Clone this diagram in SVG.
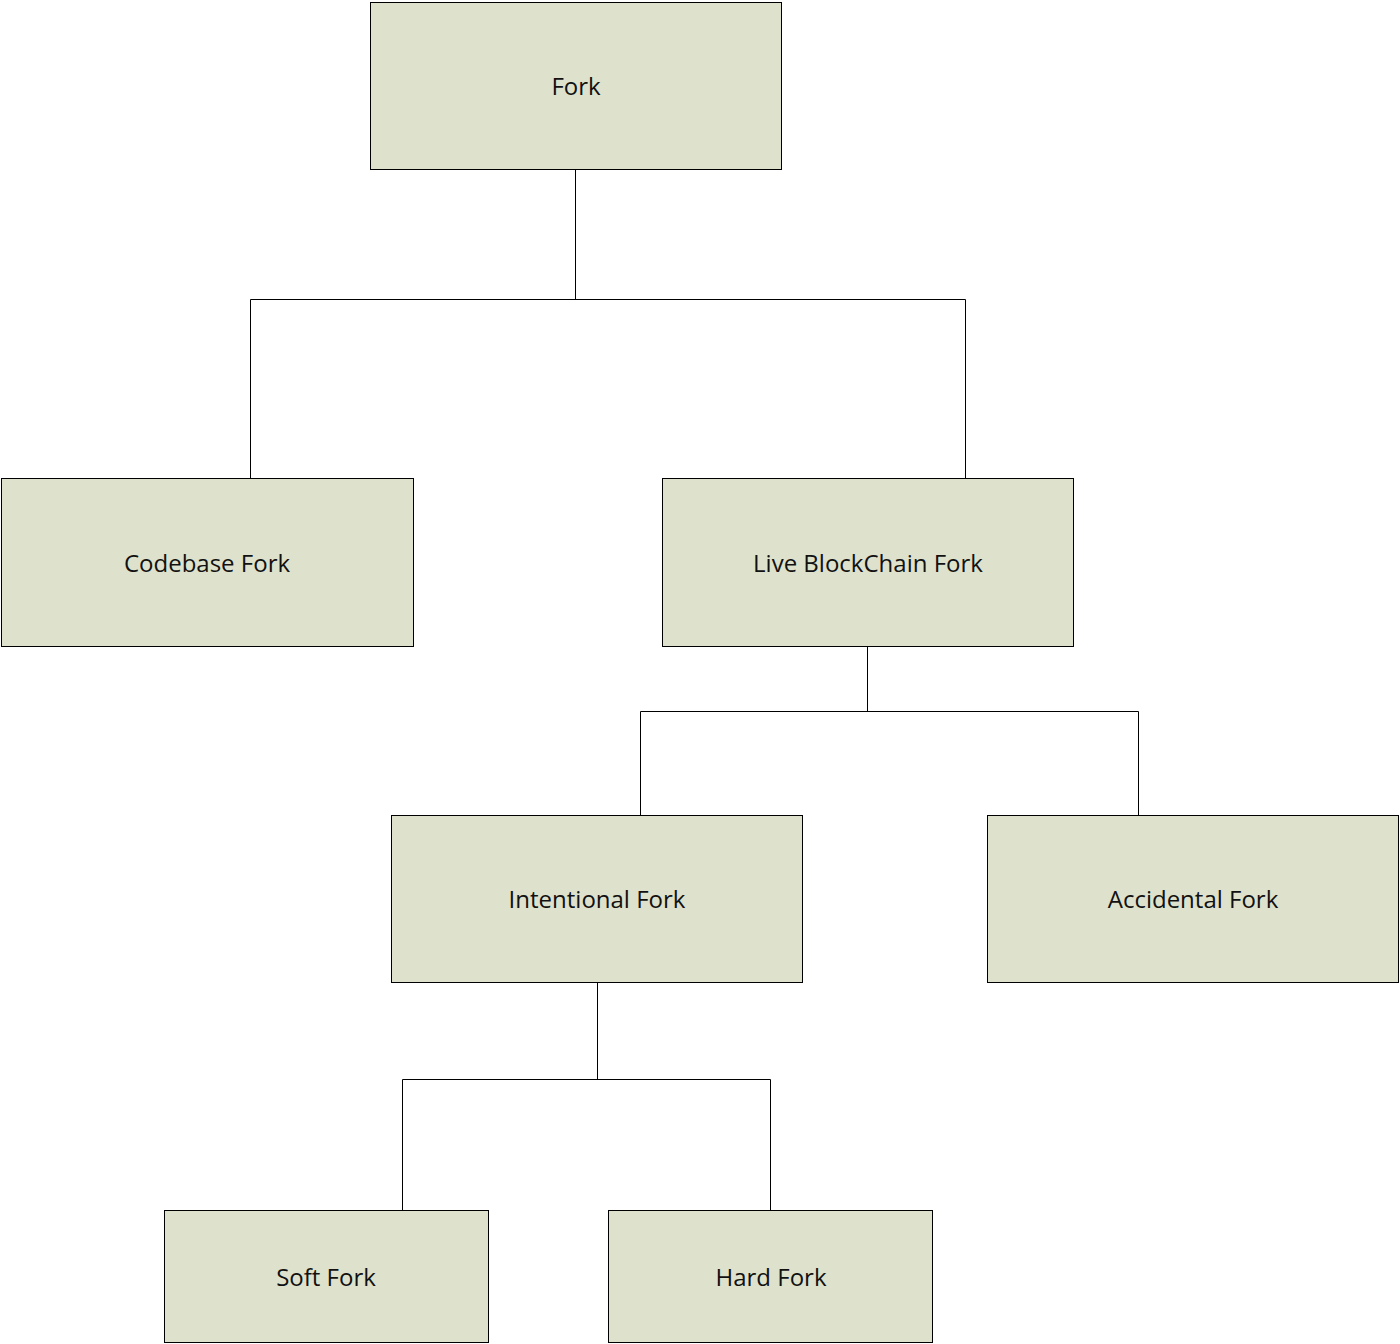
<svg xmlns="http://www.w3.org/2000/svg" width="1400" height="1344" viewBox="0 0 1400 1344">
<style>
.n rect{fill:#dee2cc;stroke:#000;stroke-width:1}
.n text{font-family:"Open Sans","Liberation Sans",sans-serif;font-size:24px;fill:#111;text-anchor:middle;dominant-baseline:central}
.c path{fill:none;stroke:#000;stroke-width:1}
</style>
<rect width="1400" height="1344" fill="#fff"/>
<g class="c">
<path d="M575.5 169V299.5M250.5 478V299.5H965.5V478"/>
<path d="M867.5 646V711.5M640.5 815V711.5H1138.5V815"/>
<path d="M597.5 982V1079.5M402.5 1210V1079.5H770.5V1210"/>
</g>
<g id="fork" class="n"><rect x="370.5" y="2.5" width="411" height="167"/><text x="576" y="85">Fork</text></g>
<g id="codebase" class="n"><rect x="1.5" y="478.5" width="412" height="168"/><text x="207" y="562">Codebase Fork</text></g>
<g id="live" class="n"><rect x="662.5" y="478.5" width="411" height="168"/><text x="868" y="562">Live BlockChain Fork</text></g>
<g id="intentional" class="n"><rect x="391.5" y="815.5" width="411" height="167"/><text x="597" y="898">Intentional Fork</text></g>
<g id="accidental" class="n"><rect x="987.5" y="815.5" width="411" height="167"/><text x="1193" y="898">Accidental Fork</text></g>
<g id="soft" class="n"><rect x="164.5" y="1210.5" width="324" height="132"/><text x="326" y="1276">Soft Fork</text></g>
<g id="hard" class="n"><rect x="608.5" y="1210.5" width="324" height="132"/><text x="771" y="1276">Hard Fork</text></g>
</svg>
